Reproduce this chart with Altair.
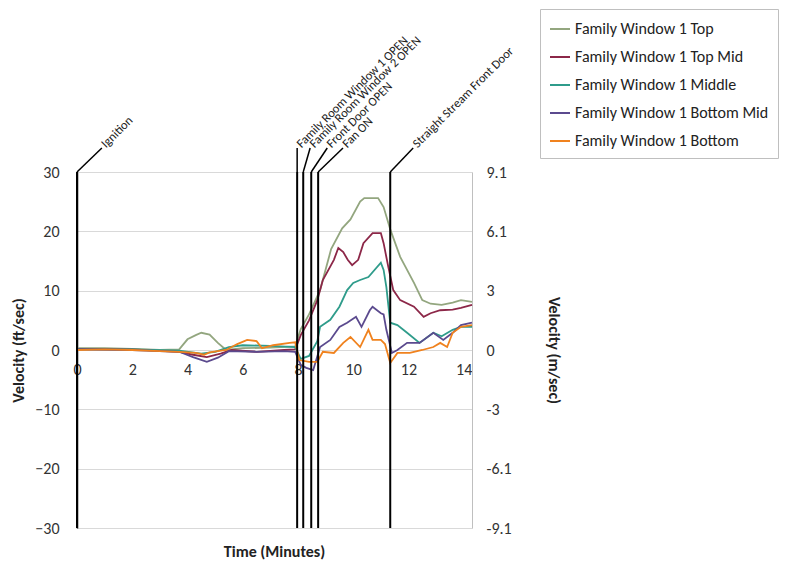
import altair as alt
import pandas as pd

FONT = "Carlito, Lato, sans-serif"
W, H = 395, 356

series_names = ["Family Window 1 Top", "Family Window 1 Top Mid", "Family Window 1 Middle",
                "Family Window 1 Bottom Mid", "Family Window 1 Bottom"]
series_colors = ["#93a67f", "#8c2748", "#2f9c8b", "#5b4a8e", "#f0821e"]

top_t = [0, 1, 2, 3, 3.7, 4.0, 4.3, 4.5, 4.8, 5.1, 5.4, 6, 7, 7.9, 8.1, 8.4, 8.8, 9.2, 9.6, 9.9,
         10.25, 10.4, 10.9, 11.1, 11.35, 11.7, 12.2, 12.5, 12.8, 13.2, 13.6, 13.9, 14.3]
top_v = [0.3, 0.3, 0.2, 0, 0.1, 1.8, 2.5, 2.9, 2.6, 1.2, 0, 0.3, 0.4, 0.6, 3.5, 6, 10.1, 17, 20.5, 22,
         25, 25.6, 25.6, 24.1, 20.2, 15.7, 11.3, 8.4, 7.8, 7.6, 8, 8.4, 8.1]

topmid_t = [0, 2, 3.7, 4.2, 4.7, 5.2, 5.6, 6.5, 7.5, 7.9, 8.1, 8.4, 8.7, 8.9, 9.3, 9.46, 9.64, 9.8,
            9.96, 10.18, 10.37, 10.7, 11, 11.1, 11.27, 11.45, 11.7, 12.2, 12.55, 12.8, 13.15, 13.6,
            13.9, 14.3]
topmid_v = [0.2, 0.1, -0.3, -0.8, -1.2, -0.6, 0, -0.3, 0, 0.1, 2.5, 5, 8.4, 11.8, 15.2, 17.2, 16.5,
            15.2, 14.3, 15.2, 18, 19.7, 19.7, 18, 14, 10.1, 8.4, 7.3, 5.6, 6.2, 6.7, 6.8, 7.1, 7.6]

middle_t = [0, 2, 3.7, 4.5, 5, 5.5, 6, 7, 7.9, 8.1, 8.4, 8.7, 8.8, 9.17, 9.5, 9.78, 10, 10.25,
            10.55, 11, 11.1, 11.2, 11.34, 11.6, 11.95, 12.4, 12.9, 13.2, 13.6, 13.9, 14.3]
middle_v = [0.1, 0.1, -0.1, -0.6, -0.3, 0.5, 0.8, 0.7, 0.5, -1.5, -1, 1.5, 3.9, 5.1, 7.3, 10.1,
            11.3, 11.8, 12.3, 14.7, 13.5, 10.6, 4.6, 4.2, 2.9, 1.2, 2.9, 2.3, 3.4, 3.9, 3.9]

botmid_t = [0, 2, 3.7, 4.2, 4.7, 5.1, 5.5, 6.5, 7.5, 7.9, 8.1, 8.3, 8.55, 8.8, 9.17, 9.5, 9.78,
            10.1, 10.3, 10.6, 10.7, 11, 11.1, 11.2, 11.4, 11.6, 11.95, 12.4, 12.9, 13.26, 13.6,
            13.9, 14.3]
botmid_v = [0.1, 0, -0.3, -1.2, -2, -1.3, -0.2, -0.3, -0.2, -0.3, -2.5, -3, -3.4, 0.5, 1.7, 3.9,
            4.6, 5.6, 3.9, 6.7, 7.3, 6.2, 6.0, 3.4, -0.5, 0, 1.2, 1.2, 2.9, 1.7, 2.9, 4.2, 4.6]

bottom_t = [0, 1, 2, 3, 3.7, 4.3, 4.6, 4.8, 5.1, 5.4, 5.8, 6.16, 6.5, 6.7, 7.1, 7.7, 7.9, 8.05,
            8.4, 8.7, 8.9, 9.3, 9.64, 9.9, 10.25, 10.55, 10.7, 11, 11.15, 11.34, 11.6, 12.05, 12.5,
            12.9, 13.15, 13.4, 13.6, 13.9, 14.3]
bottom_v = [0, 0.1, 0, -0.2, -0.3, -0.5, -0.8, -0.4, -0.2, 0, 1.0, 1.7, 1.5, 0.3, 0.8, 1.2, 1.3,
            -1.7, -2, -2, -0.3, -0.5, 1.2, 2.2, 0.5, 3.4, 1.7, 1.7, 1.0, -2.2, -0.5, -0.5, 0, 0.5,
            1.2, 0.5, 2.9, 3.9, 4.2]

event_names = ["Ignition", "Family Room Window 1 OPEN", "Family Room Window 2 OPEN",
               "Front Door OPEN", "Fan ON", "Straight Stream Front Door"]
event_times = [0, 7.97, 8.19, 8.48, 8.73, 11.34]

x_ticks = [0, 2, 4, 6, 8, 10, 12, 14]
y_ticks = [-30, -20, -10, 0, 10, 20, 30]

# leader-line horizontal reach (minutes) for each label, a styling choice
leader_dx = [0.9, 0.0, 0.25, 0.58, 0.9, 0.83]
LEADER_H = 24

rows = []
for name, ts, vs in zip(series_names,
                        [top_t, topmid_t, middle_t, botmid_t, bottom_t],
                        [top_v, topmid_v, middle_v, botmid_v, bottom_v]):
    for t, v in zip(ts, vs):
        rows.append({"series": name, "t": t, "v": v})
df = pd.DataFrame(rows)

ev = pd.DataFrame({"name": event_names, "t": event_times,
                   "t2": [t + d for t, d in zip(event_times, leader_dx)]})

xscale = alt.Scale(domain=[0, 14.3], nice=False, zero=False)
yscale = alt.Scale(domain=[-30, 30], nice=False)

lines = alt.Chart(df).mark_line(strokeWidth=1.8).encode(
    x=alt.X("t:Q", scale=xscale,
            axis=alt.Axis(title=None, values=x_ticks, offset=-(H / 2), ticks=False,
                          domainColor="#d9d9d9", labelFontSize=16, labelColor="#333",
                          labelPadding=11, grid=False, labelFlush=False)),
    y=alt.Y("v:Q", scale=yscale,
            axis=alt.Axis(title="Velocity (ft/sec)", values=y_ticks, ticks=False,
                          domainColor="#000", domainWidth=1.5, labelFontSize=16,
                          labelColor="#333", labelPadding=18, gridColor="#d9d9d9",
                          titleFontSize=16, titleFontWeight="bold", titlePadding=8)),
    color=alt.Color("series:N", scale=alt.Scale(domain=series_names, range=series_colors),
                    legend=alt.Legend(title=None, orient="none", legendX=463, legendY=-163,
                                      symbolType="stroke", symbolSize=400,
                                      symbolStrokeWidth=2, labelFontSize=16,
                                      labelColor="#222", rowPadding=9, padding=9,
                                      strokeColor="#bfbfbf", fillColor="white",
                                      labelLimit=300)),
)

right_axis = alt.Chart(df).mark_line(opacity=0).encode(
    x=alt.X("t:Q", scale=xscale),
    y=alt.Y("v:Q", scale=yscale,
            axis=alt.Axis(orient="right", title="Velocity (m/sec)", values=y_ticks, ticks=False,
                          domainColor="#bfbfbf", labelFontSize=16, labelColor="#333",
                          labelPadding=14, grid=False, titleFontSize=16,
                          titleFontWeight="bold", titlePadding=34,
                          labelExpr="round(datum.value*0.3048*10)/10")),
)

vlines = alt.Chart(ev).mark_rule(color="black", strokeWidth=2).encode(
    x=alt.X("t:Q", scale=xscale), y=alt.value(0), y2=alt.value(H))

leaders = alt.Chart(ev).mark_rule(color="black", strokeWidth=1.5).encode(
    x=alt.X("t:Q", scale=xscale), x2="t2:Q", y=alt.value(0), y2=alt.value(-LEADER_H))

labels = alt.Chart(ev).mark_text(angle=315, align="left", baseline="middle", fontSize=12.5,
                                 font=FONT, color="#222", dx=2).encode(
    x=alt.X("t2:Q", scale=xscale), y=alt.value(-LEADER_H - 1), text="name:N")

chart = alt.layer(lines, right_axis, vlines, leaders, labels).resolve_axis(
    y="independent"
).properties(
    width=W, height=H,
    padding={"left": 2, "top": 0, "right": 2, "bottom": 5},
    title=alt.TitleParams("Time (Minutes)", orient="bottom", anchor="middle", fontSize=16,
                          fontWeight="bold", font=FONT, color="#222", offset=8),
).configure_view(stroke=None).configure_axis(
    labelFont=FONT, titleFont=FONT, titleColor="#222"
).configure_legend(labelFont=FONT)

chart.save("out.html", embed_options={"renderer": "svg", "actions": False})
